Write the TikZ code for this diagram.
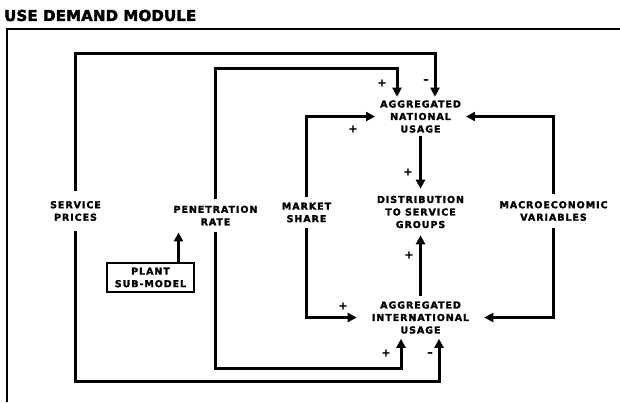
\documentclass[tikz,border=0pt]{standalone}
\usepackage{fontspec}
\usepackage{tikz}
\usetikzlibrary{arrows.meta,calc,positioning}
\newfontfamily\blockfont[LetterSpace=10,BoldFeatures={FakeBold=2}]{DejaVu Sans}
\newfontfamily\headfont[LetterSpace=1,BoldFeatures={FakeBold=2.5}]{DejaVu Sans}
\definecolor{Ink}{HTML}{000000}
\definecolor{Paper}{HTML}{FFFFFF}

\begin{document}
\begin{tikzpicture}[x=1pt,y=-1pt,>={Triangle[length=9pt,width=9pt]},
    lbl/.style={font=\blockfont\bfseries\fontsize{9.5}{12.5}\selectfont,align=center,text=Ink},
    usage/.style={lbl,inner xsep=5pt,inner ysep=3.5pt},
    driver/.style={lbl,inner xsep=4pt,inner ysep=7pt},
    flow/.style={->,line width=3pt,draw=Ink},
    sign/.style={font=\blockfont\bfseries\fontsize{10.5}{11}\selectfont,inner sep=0pt,text=Ink}]
      \useasboundingbox[fill=Paper] (0,0) rectangle (620,402);

      \node[anchor=west,inner sep=0pt,text=Ink,
            font=\headfont\bfseries\fontsize{15}{17}\selectfont] (title) at (4,15.5) {USE DEMAND MODULE};

      % frame
      \coordinate (fbl) at (7,402);
      \coordinate (ftl) at (7,29);
      \coordinate (ftr) at (620,29);
      \draw[line width=2pt,Ink] (fbl) -- (ftl) -- (ftr);

      % usage blocks
      \node[usage] (nat) at (420.5,116.5) {AGGREGATED\\NATIONAL\\USAGE};
      \node[usage,inner ysep=7pt] (dist) at (420.5,212) {DISTRIBUTION\\TO SERVICE\\GROUPS};
      \node[usage,inner xsep=15pt,inner ysep=5pt] (intl) at (420.5,317.5) {AGGREGATED\\INTERNATIONAL\\USAGE};

      % drivers
      \node[driver,inner ysep=10pt] (prices) at (75.5,211) {SERVICE\\PRICES};
      \node[driver] (pen) at (215.5,215.5) {PENETRATION\\RATE};
      \node[driver,inner ysep=6pt] (share) at (306.5,212.5) {MARKET\\SHARE};
      \node[driver,inner ysep=6.5pt] (macro) at (553.5,211) {MACROECONOMIC\\VARIABLES};
      \node[lbl,draw=Ink,line width=2.2pt,minimum width=87pt,minimum height=29pt,inner sep=2pt]
        (plant) at (150.5,277.5) {PLANT\\SUB-MODEL};

      \coordinate (ptop) at (435,53);
      \coordinate (pbot) at (439,381);
      \coordinate (pentop) at (397,68);
      \coordinate (penbot) at (401,368);

      \draw[flow] (prices.north) |- (ptop) -- (ptop |- nat.north);
      \draw[flow] (prices.south) |- (pbot) -- (pbot |- intl.south);
      \draw[flow] (pen.north) |- (pentop) -- (pentop |- nat.north);
      \draw[flow] (pen.south) |- (penbot) -- (penbot |- intl.south);
      \draw[flow] (share.north) |- (nat.west);
      \draw[flow] (share.south) |- (intl.west);
      \draw[flow] (macro.north) |- (nat.east);
      \draw[flow] (macro.south) |- (intl.east);
      \draw[flow] (nat.south) -- (dist.north);
      \draw[flow] (intl.north) -- (dist.south);
      \draw[flow] ([xshift=28pt]plant.north) -- ([xshift=28pt]plant.north |- pen.south);

      % polarity marks
      \foreach \i/\x/\y/\s in {1/382/83/+,2/426/81/–,3/353/129/+,4/408/172/+,
                               5/409/255/+,6/343/306/+,7/386/353/+,8/430/354/–} {
        \node[sign] (sg\i) at (\x,\y) {\s};
      }
    \end{tikzpicture}
\end{document}
